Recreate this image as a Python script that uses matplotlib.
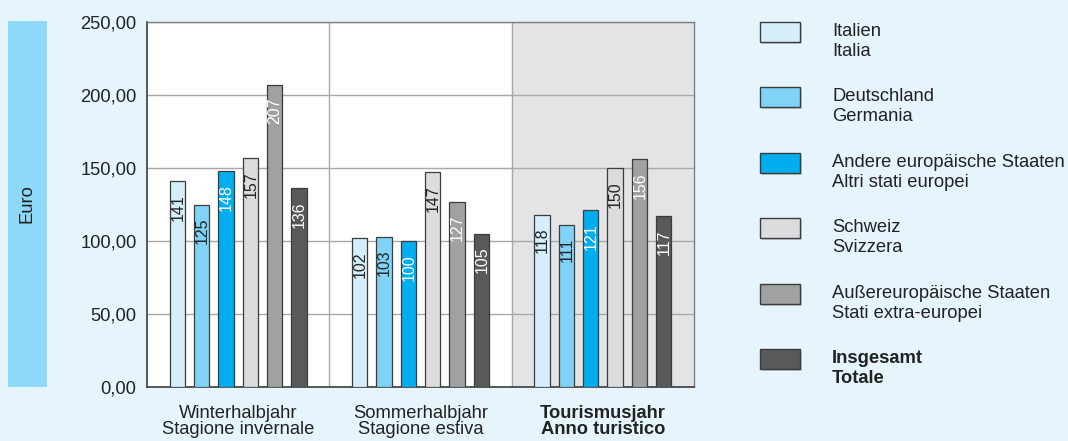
import matplotlib.pyplot as plt
from matplotlib.patches import Rectangle
import numpy as np

plt.rcParams['font.family'] = ['Liberation Sans', 'DejaVu Sans']

periods = ["Winterhalbjahr\nStagione invernale", "Sommerhalbjahr\nStagione estiva",
           "Tourismusjahr\nAnno turistico"]
series_de = ["Italien", "Deutschland", "Andere europäische Staaten", "Schweiz",
             "Außereuropäische Staaten", "Insgesamt"]
series_it = ["Italia", "Germania", "Altri stati europei", "Svizzera",
             "Stati extra-europei", "Totale"]
italien = [141, 102, 118]
deutschland = [125, 103, 111]
andere_europa = [148, 100, 121]
schweiz = [157, 147, 150]
aussereuropa = [207, 127, 156]
insgesamt = [136, 105, 117]
yticks = [0, 50, 100, 150, 200, 250]

values = [italien, deutschland, andere_europa, schweiz, aussereuropa, insgesamt]
colors = ["#d4eefa", "#80d3f6", "#00aeef", "#dcdcde", "#a0a1a3", "#58595b"]
label_colors = ["#222222", "#222222", "white", "#222222", "white", "white"]

BG = "#e6f4fc"
W, H = 1068, 441
FS = 13.2

fig = plt.figure(figsize=(W / 100, H / 100), dpi=100, facecolor=BG)


def px(x0, y0, w, h):
    # pixel box (top-left origin) -> figure fraction
    return [x0 / W, 1 - (y0 + h) / H, w / W, h / H]


# Euro side box
fig.patches.append(Rectangle((8 / W, 1 - 387 / H), 39 / W, 366 / H,
                             transform=fig.transFigure, facecolor="#8ed8f8",
                             edgecolor="none"))
fig.text(27 / W, 1 - 204 / H, "Euro", rotation=90, ha="center", va="center",
         fontsize=FS, color="#222222")

ax = fig.add_axes(px(147, 22, 547, 365))
ax.set_facecolor("white")
ax.axvspan(1.5, 2.5, color="#e3e4e6", zorder=0)

x = np.arange(len(periods))
step = 0.1335
width = 0.083
offsets = (np.arange(6) - 2.5) * step

for i, vals in enumerate(values):
    bars = ax.bar(x + offsets[i], vals, width=width, color=colors[i],
                  edgecolor="#3c3c3c", linewidth=0.9, zorder=3)
    for b, v in zip(bars, vals):
        ax.text(b.get_x() + b.get_width() / 2 + 0.003, v - 9, str(v), rotation=90,
                ha="center", va="top", fontsize=11.5, color=label_colors[i],
                zorder=4)

ax.set_xlim(-0.5, 2.5)
ax.set_ylim(0, 250)
ax.set_yticks(yticks)
ax.set_yticklabels([f"{t:.2f}".replace(".", ",") for t in yticks], fontsize=FS,
                   color="#222222")
ax.yaxis.grid(True, color="#a7a8aa", linewidth=1.0, zorder=1)
for sep in (0.5, 1.5):
    ax.axvline(sep, color="#a7a8aa", linewidth=1.0, zorder=1)
ax.tick_params(axis="y", length=0, pad=7.5)
ax.tick_params(axis="x", length=0, pad=13)
ax.set_xticks(x)
ax.set_xticklabels(periods, fontsize=FS, color="#222222", linespacing=0.95)
ax.get_xticklabels()[2].set_fontweight("bold")
for side in ("left", "bottom"):
    ax.spines[side].set_color("#3c3c3c")
    ax.spines[side].set_linewidth(1.2)
for side in ("top", "right"):
    ax.spines[side].set_color("#808080")
    ax.spines[side].set_linewidth(1.0)

# legend
for i in range(6):
    y0 = 22 + i * 65.4
    fig.patches.append(Rectangle(((762) / W, 1 - (y0 + 22) / H), 40 / W, 20 / H,
                                 transform=fig.transFigure, facecolor="#c4ccd2",
                                 edgecolor="none"))
    fig.patches.append(Rectangle((760 / W, 1 - (y0 + 20) / H), 40 / W, 20 / H,
                                 transform=fig.transFigure, facecolor=colors[i],
                                 edgecolor="#3c3c3c", linewidth=1.0))
    weight = "bold" if i == 5 else "normal"
    fig.text(832 / W, 1 - (y0 + 14) / H, series_de[i], ha="left", va="baseline",
             fontsize=FS, color="#222222", fontweight=weight)
    fig.text(832 / W, 1 - (y0 + 34) / H, series_it[i], ha="left", va="baseline",
             fontsize=FS, color="#222222", fontweight=weight)

fig.savefig("out.png", dpi=100, facecolor=BG)
